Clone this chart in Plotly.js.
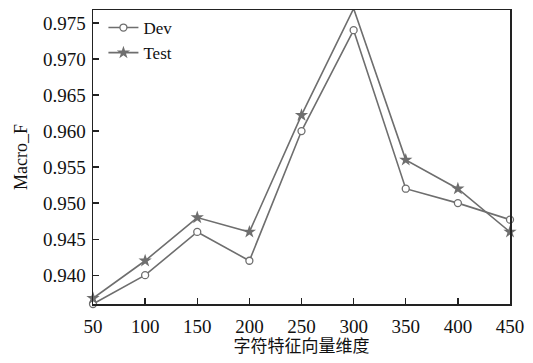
<!DOCTYPE html>
<html><head><meta charset="utf-8">
<script src="https://cdn.plot.ly/plotly-3.0.1.min.js"></script>
<style>html,body{margin:0;padding:0;background:#fff}</style>
</head><body>
<div id="chart" style="width:533px;height:363px"></div>
<script>
const dims = [50, 100, 150, 200, 250, 300, 350, 400, 450];
const devF = [0.936, 0.940, 0.946, 0.942, 0.960, 0.974, 0.952, 0.950, 0.9477];
const testF = [0.9368, 0.942, 0.948, 0.946, 0.9622, 0.977, 0.956, 0.952, 0.946];
const yTicks = [0.940, 0.945, 0.950, 0.955, 0.960, 0.965, 0.970, 0.975];
const xTicks = [50, 100, 150, 200, 250, 300, 350, 400, 450];

const serif = '"Liberation Serif", "Times New Roman", "Noto Sans CJK SC", serif';
const lineCol = '#6e6e6e';

const traces = [
  {x: dims, y: devF, name: 'Dev', type: 'scatter', mode: 'lines+markers',
   line: {color: lineCol, width: 1.6},
   marker: {symbol: 'circle', size: 7, color: '#fff', line: {color: lineCol, width: 1.3}},
   cliponaxis: false},
  {x: dims, y: testF, name: 'Test', type: 'scatter', mode: 'lines+markers',
   line: {color: lineCol, width: 1.6},
   marker: {symbol: 'star', size: 10, color: lineCol, line: {width: 0}},
   cliponaxis: false}
];

const layout = {
  width: 533, height: 363,
  margin: {l: 93, r: 23, t: 10, b: 59},
  paper_bgcolor: '#fff', plot_bgcolor: '#fff',
  font: {family: serif, size: 17, color: '#111'},
  showlegend: true,
  legend: {x: 0.025, y: 1.0, xanchor: 'left', yanchor: 'top', bgcolor: 'rgba(0,0,0,0)',
           font: {family: serif, size: 17, color: '#111'}, itemwidth: 30, tracegroupgap: 0},
  xaxis: {
    range: [50, 450], tickvals: xTicks, ticktext: xTicks.map(String),
    ticks: 'inside', ticklen: 6, tickwidth: 1.3, tickcolor: '#222',
    showline: true, linecolor: '#222', linewidth: 1.5, mirror: true,
    showgrid: false, zeroline: false, ticklabelstandoff: 5,
    tickfont: {family: serif, size: 19, color: '#111'},
    title: {text: '字符特征向量维度', font: {family: serif, size: 17, color: '#111'}, standoff: 1}
  },
  yaxis: {
    range: [0.936, 0.9768], tickvals: yTicks, ticktext: yTicks.map(v => v.toFixed(3)),
    ticks: 'inside', ticklen: 6, tickwidth: 1.3, tickcolor: '#222',
    showline: true, linecolor: '#222', linewidth: 1.5, mirror: true,
    showgrid: false, zeroline: false, ticklabelstandoff: 2,
    tickfont: {family: serif, size: 19, color: '#111'},
    title: {text: 'Macro_F', font: {family: serif, size: 18, color: '#111'}, standoff: 10}
  }
};

Plotly.newPlot('chart', traces, layout, {displayModeBar: false, staticPlot: true});
</script>
</body></html>
